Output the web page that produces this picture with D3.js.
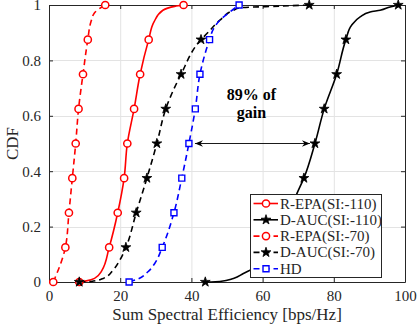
<!DOCTYPE html>
<html><head><meta charset="utf-8">
<script src="https://cdn.jsdelivr.net/npm/d3@7"></script>
<style>
html,body{margin:0;padding:0;background:#fff;}
svg{display:block;font-family:"Liberation Serif","Times New Roman",serif;}
</style></head>
<body><svg id="c" width="419" height="325"></svg>
<script>
// ---- data ----
const seriesNames = ["R-EPA(SI:-110)", "D-AUC(SI:-110)", "R-EPA(SI:-70)", "D-AUC(SI:-70)", "HD"];
const repa110X = [8.5, 10.5, 12.8, 14.8, 16.9, 19.3, 21.1, 22.0, 23.9, 25.6, 28.0, 29.5, 32.0, 35.3, 37.8];
const repa110Y = [0, 0.004, 0.013, 0.04, 0.125, 0.25, 0.375, 0.5, 0.625, 0.75, 0.875, 0.939, 0.981, 0.995, 1];
const dauc110X = [43.9, 48.0, 51.8, 54.6, 56.5, 60.0, 63.0, 67.5, 69.6, 71.6, 74.7, 77.3, 80.8, 83.4, 85.0, 87.4, 90.2, 93.0, 95.8, 98.1];
const dauc110Y = [0, 0.002, 0.013, 0.031, 0.043, 0.07, 0.125, 0.25, 0.318, 0.375, 0.5, 0.625, 0.75, 0.875, 0.927, 0.957, 0.975, 0.981, 0.993, 1];
const repa70X = [1.2, 4.6, 5.6, 6.55, 7.5, 8.3, 9.55, 10.9, 11.8, 12.8, 15.8];
const repa70Y = [0, 0.125, 0.25, 0.375, 0.5, 0.625, 0.75, 0.875, 0.94, 0.972, 1];
const dauc70X = [8.5, 11.9, 15.2, 18.0, 19.9, 21.6, 24.5, 27.5, 30.3, 32.8, 37.1, 42.7, 44.3, 48.0, 51.8, 53.7, 64.9, 73.1];
const dauc70Y = [0, 0.002, 0.013, 0.043, 0.079, 0.125, 0.25, 0.375, 0.5, 0.625, 0.75, 0.875, 0.896, 0.945, 0.981, 0.99, 0.996, 1];
const hdX = [22.5, 25.0, 27.8, 29.7, 31.8, 35.1, 37.3, 39.3, 41.1, 42.4, 45.1, 46.2, 48.0, 50.8, 53.4];
const hdY = [0, 0.011, 0.037, 0.067, 0.125, 0.25, 0.375, 0.5, 0.625, 0.75, 0.875, 0.914, 0.945, 0.975, 1];
const xTicks = [0, 20, 40, 60, 80, 100];
const yTicks = [0, 0.2, 0.4, 0.6, 0.8, 1];
const yTickLabels = ["0", "0.2", "0.4", "0.6", "0.8", "1"];
const annotText = ["89% of", "gain"];
const arrowFrom = [41.0, 0.5], arrowTo = [73.3, 0.5];

// ---- styles ----
const styles = [
  {x: repa110X, y: repa110Y, color: "#ff0000", dash: null, marker: "circle"},
  {x: dauc110X, y: dauc110Y, color: "#000000", dash: null, marker: "star"},
  {x: repa70X, y: repa70Y, color: "#ff0000", dash: "6,4", marker: "circle"},
  {x: dauc70X, y: dauc70Y, color: "#000000", dash: "6,4", marker: "star"},
  {x: hdX, y: hdY, color: "#0000ff", dash: "6,4", marker: "square"}
];

const svg = d3.select("#c");
const L = 49, R = 405, T = 5, B = 282;
const x = d3.scaleLinear().domain([0, 100]).range([L, R]);
const y = d3.scaleLinear().domain([0, 1]).range([B, T]);
const axisCol = "#262626";

// grid
const g = svg.append("g");
g.selectAll(".gx").data(xTicks.slice(1, -1)).enter().append("line")
  .attr("x1", d => x(d) + 0.5).attr("x2", d => x(d) + 0.5).attr("y1", T).attr("y2", B)
  .attr("stroke", "#e3e3e3").attr("stroke-width", 1);
g.selectAll(".gy").data(yTicks.slice(1, -1)).enter().append("line")
  .attr("y1", d => Math.round(y(d)) + 0.5).attr("y2", d => Math.round(y(d)) + 0.5).attr("x1", L).attr("x2", R)
  .attr("stroke", "#e3e3e3").attr("stroke-width", 1);

// axes
const xAxisB = d3.axisBottom(x).tickValues(xTicks).tickSizeInner(-4).tickSizeOuter(0).tickPadding(8);
const xAxisT = d3.axisTop(x).tickValues(xTicks).tickSizeInner(-4).tickSizeOuter(0).tickFormat("");
const yAxisL = d3.axisLeft(y).tickValues(yTicks).tickSizeInner(-4).tickSizeOuter(0).tickPadding(8)
  .tickFormat((d, i) => yTickLabels[i]);
const yAxisR = d3.axisRight(y).tickValues(yTicks).tickSizeInner(-4).tickSizeOuter(0).tickFormat("");

function styleAxis(sel) {
  sel.selectAll("path").attr("stroke", axisCol).attr("stroke-width", 1);
  sel.selectAll("line").attr("stroke", axisCol);
  sel.selectAll("text").attr("fill", axisCol).style("font-size", "15px")
    .style("font-family", '"Liberation Serif","Times New Roman",serif');
}
const gxb = svg.append("g").attr("transform", `translate(0,${B})`).call(xAxisB).call(styleAxis);
svg.append("g").attr("transform", `translate(0,${T})`).call(xAxisT).call(styleAxis);
const gyl = svg.append("g").attr("transform", `translate(${L},0)`).call(yAxisL).call(styleAxis);
svg.append("g").attr("transform", `translate(${R},0)`).call(yAxisR).call(styleAxis);
gxb.selectAll("text").attr("dy", "0.71em");

// labels
svg.append("text").attr("x", (L + R) / 2).attr("y", 320).attr("text-anchor", "middle")
  .style("font-size", "17px").attr("fill", axisCol).text("Sum Spectral Efficiency [bps/Hz]");
svg.append("text").attr("transform", `translate(18,${(T + B) / 2}) rotate(-90)`).attr("text-anchor", "middle")
  .style("font-size", "17px").attr("fill", axisCol).text("CDF");

// curves
const line = d3.line().x(d => x(d[0])).y(d => y(d[1])).curve(d3.curveMonotoneY);
const star = d3.symbol().type(d3.symbolStar).size(30);
const square = d3.symbol().type(d3.symbolSquare).size(36);

function drawMarker(sel, type, color) {
  if (type === "circle") {
    sel.append("circle").attr("r", 3.6).attr("fill", "#fff").attr("stroke", color).attr("stroke-width", 1.5);
  } else if (type === "star") {
    sel.append("path").attr("d", star()).attr("fill", color).attr("stroke", color).attr("stroke-width", 0.8);
  } else {
    sel.append("path").attr("d", square()).attr("fill", "#fff").attr("stroke", color).attr("stroke-width", 1.4);
  }
}

const plot = svg.append("g");
styles.forEach(s => {
  const pts = s.x.map((v, i) => [v, s.y[i]]);
  plot.append("path").attr("d", line(pts)).attr("fill", "none").attr("stroke", s.color)
    .attr("stroke-width", 1.6).attr("stroke-dasharray", s.dash);
});
styles.forEach(s => {
  const pts = s.x.map((v, i) => [v, s.y[i]]).filter(p => Math.abs(p[1] * 8 - Math.round(p[1] * 8)) < 1e-9);
  pts.forEach(p => {
    const m = plot.append("g").attr("transform", `translate(${x(p[0])},${y(p[1])})`);
    drawMarker(m, s.marker, s.color);
  });
});

// annotation
const ax1 = x(arrowFrom[0]), ax2 = x(arrowTo[0]), ay = y(arrowFrom[1]);
svg.append("line").attr("x1", ax1).attr("x2", ax2).attr("y1", ay).attr("y2", ay)
  .attr("stroke", "#000").attr("stroke-width", 0.9);
const ah = 8, aw = 3.2;
svg.append("path").attr("d", `M${ax1},${ay} L${ax1 + ah},${ay - aw} L${ax1 + ah - 2.5},${ay} L${ax1 + ah},${ay + aw} Z`).attr("fill", "#000");
svg.append("path").attr("d", `M${ax2},${ay} L${ax2 - ah},${ay - aw} L${ax2 - ah + 2.5},${ay} L${ax2 - ah},${ay + aw} Z`).attr("fill", "#000");
svg.append("text").attr("x", 251.5).attr("y", 100).attr("text-anchor", "middle")
  .style("font-size", "16px").style("font-weight", "bold").text(annotText[0]);
svg.append("text").attr("x", 251.5).attr("y", 118).attr("text-anchor", "middle")
  .style("font-size", "16px").style("font-weight", "bold").text(annotText[1]);

// legend
const lg = svg.append("g");
lg.append("rect").attr("x", 250.5).attr("y", 194.5).attr("width", 131).attr("height", 83)
  .attr("fill", "#fff").attr("stroke", axisCol).attr("stroke-width", 1);
seriesNames.forEach((name, i) => {
  const cy = 203.5 + i * 16.3;
  const s = styles[i];
  lg.append("line").attr("x1", 253.5).attr("x2", 278).attr("y1", cy).attr("y2", cy)
    .attr("stroke", s.color).attr("stroke-width", 1.6).attr("stroke-dasharray", s.dash);
  drawMarker(lg.append("g").attr("transform", `translate(266,${cy})`), s.marker, s.color);
  lg.append("text").attr("x", 280).attr("y", cy + 5).style("font-size", "15px").attr("fill", axisCol).text(name);
});
</script></body></html>
